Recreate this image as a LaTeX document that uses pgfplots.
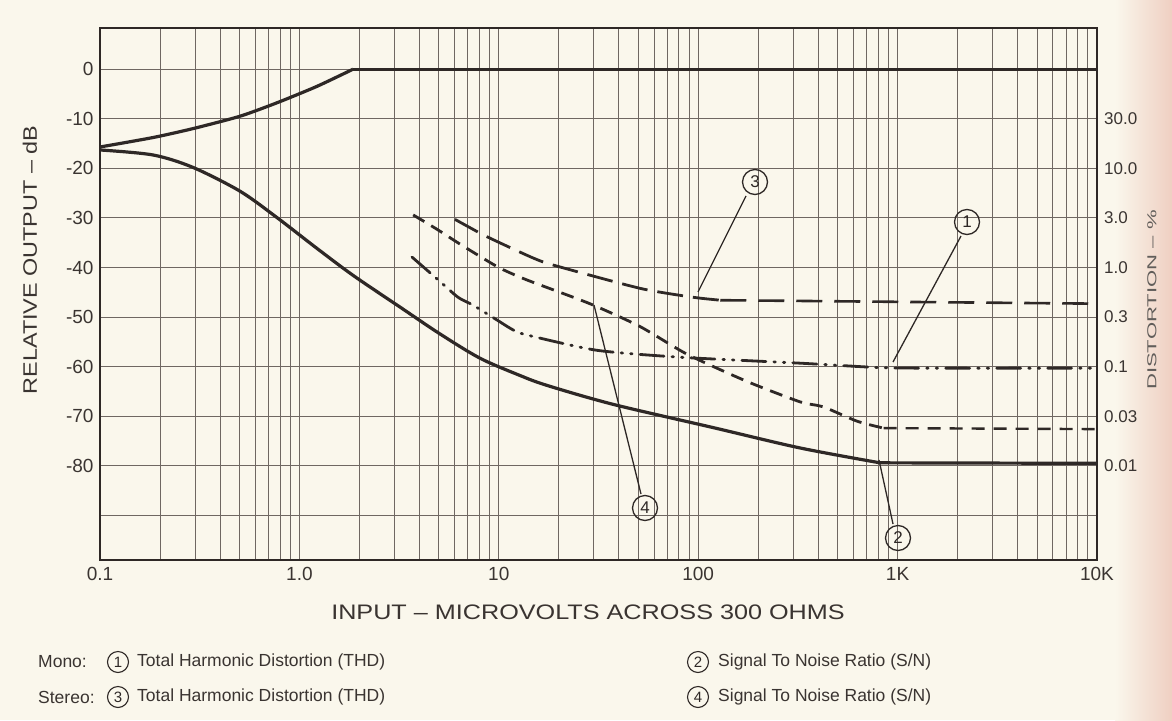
\documentclass[border=0pt]{standalone}
\usepackage{fontspec}
\setmainfont{Liberation Sans}
\newfontfamily\widefont[FakeStretch=1.2]{Liberation Sans}
\newfontfamily\rightfont[FakeStretch=1.7]{Liberation Sans}
\usepackage{pgfplots}
\pgfplotsset{compat=1.18}
\definecolor{bg}{HTML}{FAF7EC}
\definecolor{ink}{HTML}{2E2826}
\definecolor{txt}{HTML}{3A3431}
\definecolor{gridc}{HTML}{6F6762}
\definecolor{edge}{HTML}{EFCFC2}
\begin{document}
\begin{tikzpicture}[x=1pt,y=1pt]
\fill[bg] (0,0) rectangle (1172,-720);
\shade[left color=bg, right color=edge] (1115,0) rectangle (1172,-720);
\useasboundingbox (0,0) rectangle (1172,-720);
\begin{axis}[
  at={(100pt,-28pt)}, anchor=north west,
  scale only axis, width=997pt, height=532pt,
  xmode=log, xmin=0.1, xmax=10000, ymin=-99, ymax=8.3,
  xtick={0.1,1,10,100,1000,10000},
  xticklabels={0.1,1.0,10,100,1K,10K},
  minor xtick={0.2,0.3,0.4,0.5,0.6,0.7,0.8,0.9,2,3,4,5,6,7,8,9,20,30,40,50,60,70,80,90,200,300,400,500,600,700,800,900,2000,3000,4000,5000,6000,7000,8000,9000},
  ytick={0,-10,-20,-30,-40,-50,-60,-70,-80,-90},
  yticklabels={0,-10,-20,-30,-40,-50,-60,-70,-80,{}},
  grid=both,
  major grid style={draw=gridc, line width=1.1pt},
  minor grid style={draw=gridc, line width=0.9pt},
  major tick length=0pt, minor tick length=0pt,
  axis line style={draw=ink, line width=1.3pt},
  ticklabel style={font=\fontsize{19}{19}\selectfont, text=txt},
  xticklabel style={yshift=-4pt},
  yticklabel style={xshift=-3pt},
  clip=false,
]
% top curve: relative output
\addplot[ink, line width=3.2pt, smooth, tension=0.4] coordinates {
 (0.1,-15.7) (0.184,-13.8) (0.292,-12.0) (0.503,-9.5) (0.770,-6.8) (1.22,-3.5) (1.86,0)};
\addplot[ink, line width=3.2pt] coordinates {(1.86,0) (10000,0)};
% (2) mono S/N
\addplot[ink, line width=3.2pt, smooth, tension=0.5] coordinates {
 (0.1,-16.3) (0.184,-17.3) (0.292,-19.8) (0.503,-24.6) (0.770,-29.9) (1.22,-36.1) (1.86,-41.6) (3.20,-48.0) (5.07,-53.4) (8.05,-58.3) (12.8,-61.8) (17.5,-63.8) (37.4,-67.6) (119,-72.3) (324,-76.4) (816,-79.4)};
\addplot[ink, line width=3.2pt] coordinates {(816,-79.4) (10000,-79.5)};
% (4) stereo S/N
\addplot[ink, line width=2.8pt, smooth, tension=0.4, dash pattern=on 13pt off 8pt] coordinates {
 (3.72,-29.4) (4.90,-32.3) (6.17,-34.9) (7.78,-37.4) (10.1,-40.1) (13.8,-42.5) (28.6,-47.3) (51,-51.9) (88,-57.5) (176,-63.0) (324,-67.1) (423,-68.1) (626,-71.0) (850,-72.4)};
\addplot[ink, line width=2.4pt, dash pattern=on 13pt off 9pt] coordinates {(850,-72.4) (10000,-72.6)};
% (3) stereo THD
\addplot[ink, line width=2.8pt, smooth, tension=0.4, dash pattern=on 26pt off 10pt] coordinates {
 (6.03,-30.3) (8.34,-33.4) (11.0,-35.7) (14.9,-38.1) (18.7,-39.5) (51,-44.2) (94,-46.0) (129,-46.6)};
\addplot[ink, line width=2.6pt, dash pattern=on 26pt off 12pt] coordinates {(129,-46.6) (10000,-47.3)};
% (1) mono THD
\addplot[ink, line width=2.8pt, smooth, tension=0.4, line cap=round, dash pattern=on 24pt off 8pt on 1.5pt off 8pt on 1.5pt off 8pt] coordinates {
 (3.67,-37.9) (4.90,-42.3) (6.24,-46.0) (7.43,-47.6) (9.80,-50.6) (11.8,-52.6) (13.8,-53.6) (31.0,-56.7) (81,-58.1) (324,-59.3) (816,-60.2) (1500,-60.3) (10000,-60.3)};
% right-hand distortion scale
\foreach \v/\l in {-10/30.0,-20/10.0,-30/3.0,-40/1.0,-50/0.3,-60/0.1,-70/0.03,-80/0.01}{
  \edef\temp{\noexpand\node[anchor=west, text=txt, font=\noexpand\fontsize{17}{17}\noexpand\selectfont, inner sep=0pt, xshift=7pt] at (axis cs:10000,\v) {\l};}
  \temp
}
\end{axis}
% axis titles
\node[text=txt, font=\widefont\fontsize{21}{21}\selectfont] at (588,-612) {INPUT – MICROVOLTS ACROSS 300 OHMS};
\node[text=txt, rotate=90, font=\widefont\fontsize{19.5}{19.5}\selectfont] at (30,-260) {RELATIVE OUTPUT – dB};
\node[text=txt!80, rotate=90, font=\rightfont\fontsize{13}{13}\selectfont] at (1152,-300) {DISTORTION – \%};
% curve annotations
\tikzset{circ/.style={draw=ink, text=ink, circle, line width=1.3pt, inner sep=0pt, minimum size=25pt, font=\fontsize{17}{17}\selectfont},
         lcirc/.style={draw=ink, text=ink, circle, line width=1.1pt, inner sep=0pt, minimum size=21pt, font=\fontsize{15}{15}\selectfont}}
\draw[ink, line width=1.3pt] (746,-196) -- (698,-292);
\node[circ] at (755,-182) {3};
\draw[ink, line width=1.3pt] (961,-236) -- (893,-362);
\node[circ] at (967,-222) {1};
\draw[ink, line width=1.3pt] (641,-494) -- (594,-305);
\node[circ] at (645,-508) {4};
\draw[ink, line width=1.3pt] (893,-524) -- (879,-460);
\node[circ] at (898,-538) {2};
% legend
\tikzset{leg/.style={text=txt, anchor=west, inner sep=0pt, font=\fontsize{17.5}{17.5}\selectfont}}
\node[leg] at (38,-662) {Mono:};
\node[lcirc] at (118,-662) {1};
\node[leg] at (137,-662) {Total Harmonic Distortion (THD)};
\node[leg] at (38,-697) {Stereo:};
\node[lcirc] at (118,-697) {3};
\node[leg] at (137,-697) {Total Harmonic Distortion (THD)};
\node[lcirc] at (698,-662) {2};
\node[leg] at (718,-662) {Signal To Noise Ratio (S/N)};
\node[lcirc] at (698,-697) {4};
\node[leg] at (718,-697) {Signal To Noise Ratio (S/N)};
\end{tikzpicture}
\end{document}
